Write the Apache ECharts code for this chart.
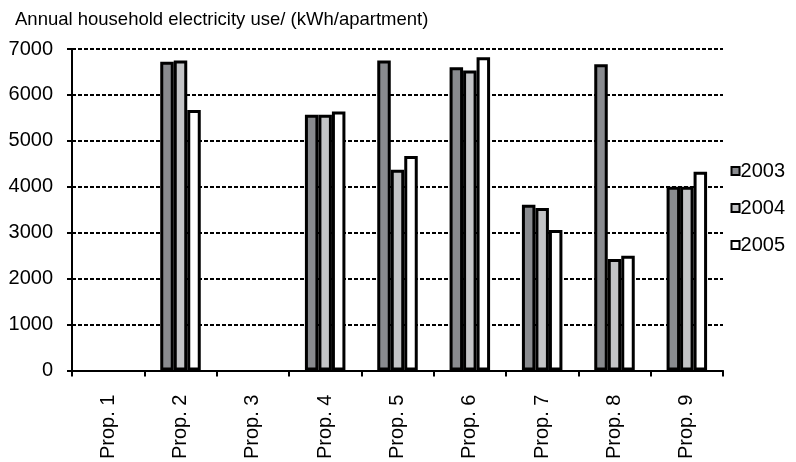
<!DOCTYPE html>
<html>
<head>
<meta charset="utf-8">
<script src="https://cdn.jsdelivr.net/npm/echarts@6/dist/echarts.min.js"></script>
<style>
  html, body { margin: 0; padding: 0; background: #fff; }
  #chart { width: 796px; height: 462px; }
</style>
</head>
<body>
<div id="chart"></div>
<script>
// Annual household electricity use per apartment, by property and year
const categories = ['Prop. 1', 'Prop. 2', 'Prop. 3', 'Prop. 4', 'Prop. 5', 'Prop. 6', 'Prop. 7', 'Prop. 8', 'Prop. 9'];
const years = ['2003', '2004', '2005'];
const use2003 = [null, 6720, null, 5570, 6750, 6600, 3610, 6670, 4000];
const use2004 = [null, 6750, null, 5570, 4370, 6530, 3540, 2430, 4000];
const use2005 = [null, 5670, null, 5640, 4670, 6820, 3060, 2500, 4330];
const yTicks = { min: 0, max: 7000, step: 1000 };

const fills = ['#898b8f', '#c3c4c6', '#ffffff'];
const values = [use2003, use2004, use2005];
const font = 'Liberation Sans, Arial, sans-serif';

const chart = echarts.init(document.getElementById('chart'), null, { renderer: 'canvas' });

chart.setOption({
  animation: false,
  backgroundColor: '#fff',
  title: {
    text: 'Annual household electricity use/ (kWh/apartment)',
    left: 10,
    top: 5,
    textStyle: { fontFamily: font, fontSize: 18.5, fontWeight: 'normal', color: '#000' }
  },
  legend: {
    orient: 'vertical',
    right: 6,
    top: 156,
    itemWidth: 8,
    itemHeight: 8,
    itemGap: 17,
    icon: 'rect',
    itemStyle: { borderColor: '#000', borderWidth: 2 },
    textStyle: { fontFamily: font, fontSize: 20, color: '#000', padding: [0, 0, 0, -4] },
    data: years
  },
  grid: { left: 72, right: 73, top: 49, bottom: 91, containLabel: false },
  xAxis: {
    type: 'category',
    data: categories,
    boundaryGap: true,
    axisLine: { lineStyle: { color: '#000', width: 2 } },
    axisTick: { show: true, length: 6, inside: false, lineStyle: { color: '#000', width: 2 } },
    axisLabel: { rotate: 90, margin: 24, fontFamily: font, fontSize: 20, color: '#000', padding: [8, 0, 0, 0] }
  },
  yAxis: {
    type: 'value',
    min: yTicks.min,
    max: yTicks.max,
    interval: yTicks.step,
    axisLine: { show: true, lineStyle: { color: '#000', width: 2 } },
    axisTick: { show: true, length: 5, lineStyle: { color: '#000', width: 2 } },
    axisLabel: { margin: 19, fontFamily: font, fontSize: 20, color: '#000', formatter: v => String(v) },
    splitLine: { show: true, lineStyle: { color: '#000', width: 2, type: [4, 2] } }
  },
  series: years.map((y, i) => ({
    name: y,
    type: 'bar',
    data: values[i],
    barWidth: 13.5,
    barGap: '0%',
    itemStyle: { color: fills[i], borderColor: '#000', borderWidth: 3 }
  }))
});
</script>
</body>
</html>
